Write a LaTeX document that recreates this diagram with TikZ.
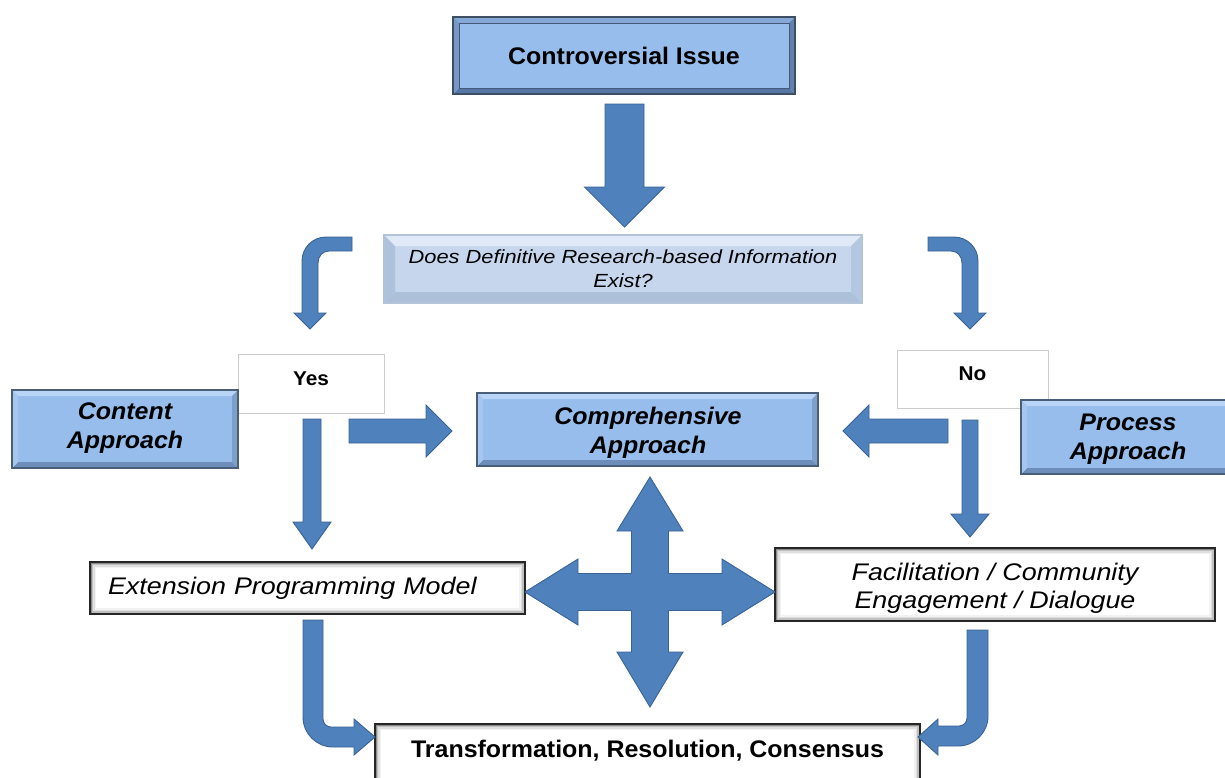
\documentclass[tikz,border=0pt]{standalone}
\usepackage{fontspec}
\setmainfont{Liberation Sans}
\newfontfamily\fA[FakeStretch=1.04]{Liberation Sans}
\newfontfamily\fB[FakeStretch=1.12]{Liberation Sans}
\newfontfamily\fC[FakeStretch=1.15]{Liberation Sans}
\usetikzlibrary{calc}
\pgfdeclarelayer{bg}
\pgfsetlayers{bg,main}
\definecolor{arrfill}{HTML}{4F81BD}
\definecolor{arrline}{HTML}{3A6394}
\definecolor{bluefill}{HTML}{97BDEC}
\definecolor{bevT}{HTML}{B8D4F6}
\definecolor{bevB}{HTML}{6D8EBB}
\definecolor{bevL}{HTML}{A6C6EF}
\definecolor{bevR}{HTML}{7F9FCB}
\definecolor{blueline}{HTML}{4B5E78}
\definecolor{ciT}{HTML}{86A8D6}
\definecolor{ciB}{HTML}{5676A3}
\definecolor{ciL}{HTML}{7698C7}
\definecolor{ciR}{HTML}{6282AE}
\definecolor{ciline}{HTML}{3E4E63}
\definecolor{ciinner}{HTML}{44597A}
\definecolor{dqfill}{HTML}{C6D7ED}
\definecolor{dqT}{HTML}{E0EAF7}
\definecolor{dqB}{HTML}{ADC0DA}
\definecolor{dqL}{HTML}{AFC2DC}
\definecolor{dqR}{HTML}{B4C7E0}
\definecolor{dqline}{HTML}{B3C3D8}

% bevelled box background: node, width, fill, top, bottom, left, right, border
\newcommand\bevelbox[8]{%
  \fill[#3] (#1.north west) rectangle (#1.south east);
  \fill[#4] (#1.north west) -- (#1.north east) -- ($(#1.north east)+(-#2,#2)$) -- ($(#1.north west)+(#2,#2)$) -- cycle;
  \fill[#5] (#1.south west) -- (#1.south east) -- ($(#1.south east)+(-#2,-#2)$) -- ($(#1.south west)+(#2,-#2)$) -- cycle;
  \fill[#6] (#1.north west) -- ($(#1.north west)+(#2,#2)$) -- ($(#1.south west)+(#2,-#2)$) -- (#1.south west) -- cycle;
  \fill[#7] (#1.north east) -- ($(#1.north east)+(-#2,#2)$) -- ($(#1.south east)+(-#2,-#2)$) -- (#1.south east) -- cycle;
  \draw[#8, line width=1.2pt] (#1.north west) rectangle (#1.south east);}

% white box with inner shadow
\newcommand\whitebox[1]{%
  \fill[black!45] (#1.north west) rectangle (#1.south east);
  \fill[black!25] ($(#1.north west)+(1.5,1.5)$) rectangle ($(#1.south east)+(-1.5,-1.5)$);
  \fill[black!12] ($(#1.north west)+(3,3)$) rectangle ($(#1.south east)+(-3,-3)$);
  \fill[black!5] ($(#1.north west)+(4.5,4.5)$) rectangle ($(#1.south east)+(-4.5,-4.5)$);
  \fill[white] ($(#1.north west)+(6,6)$) rectangle ($(#1.south east)+(-6,-6)$);
  \draw[black!85, line width=1.6pt] (#1.north west) rectangle (#1.south east);}

% vertical block arrow: start, tip, shaft half width, head half width, head length
\newcommand\vblock[5]{%
  \path[blockarrow] let \p1=(#1), \p2=(#2), \n1={(\y1>\y2)*2-1} in
    (\x2-#3pt,\y1) -- (\x2+#3pt,\y1) -- (\x2+#3pt,\y2+\n1*#5pt) -- (\x2+#4pt,\y2+\n1*#5pt)
    -- (\x2,\y2) -- (\x2-#4pt,\y2+\n1*#5pt) -- (\x2-#3pt,\y2+\n1*#5pt) -- cycle;}
% horizontal block arrow
\newcommand\hblock[5]{%
  \path[blockarrow] let \p1=(#1), \p2=(#2), \n1={(\x1>\x2)*2-1} in
    (\x1,\y2-#3pt) -- (\x1,\y2+#3pt) -- (\x2+\n1*#5pt,\y2+#3pt) -- (\x2+\n1*#5pt,\y2+#4pt)
    -- (\x2,\y2) -- (\x2+\n1*#5pt,\y2-#4pt) -- (\x2+\n1*#5pt,\y2-#3pt) -- cycle;}

\begin{document}
\begin{tikzpicture}[x=1pt,y=-1pt,
  box/.style={rectangle, inner sep=0pt, outer sep=0pt},
  boldtxt/.style={font=\fA\bfseries\fontsize{24}{28}\selectfont},
  bolditx/.style={font=\fA\bfseries\itshape\fontsize{24}{29}\selectfont, align=center},
  itx/.style={font=\fB\itshape\fontsize{24}{28}\selectfont},
  smallbold/.style={font=\fA\bfseries\fontsize{20}{24}\selectfont, text depth=10pt},
  blockarrow/.style={fill=arrfill, draw=arrline, line width=0.9pt, line join=miter}]
\useasboundingbox (0,0) rectangle (1225,777);

% ---------- nodes ----------
\node[box, boldtxt, minimum width=342, minimum height=77] (ci) at (624,55.5) {Controversial Issue};
\node[box, minimum width=478, minimum height=68, align=center,
      font=\fC\itshape\fontsize{19}{24}\selectfont] (dq) at (623,269)
      {Does Definitive Research-based Information\\Exist?};
\node[box, smallbold, minimum width=146, minimum height=59] (yes) at (311,383.5) {Yes};
\node[box, smallbold, minimum width=151, minimum height=58] (no) at (972.5,379) {No};
\node[box, minimum width=226, minimum height=78] (ca) at (125,429) {};
\node[bolditx] (cat) at (125,428.5) {Content\\Approach};
\node[box, minimum width=341, minimum height=73] (comp) at (647.5,429.5) {};
\node[bolditx] (compt) at (648,432.5) {Comprehensive\\Approach};
\node[box, minimum width=211, minimum height=74] (pa) at (1126.5,437) {};
\node[bolditx] (pat) at (1128,439) {Process\\Approach};
\node[box, itx, minimum width=435, minimum height=52, text width=399, align=left] (epm) at (307.5,588) {Extension Programming Model};
\node[box, minimum width=440, minimum height=73] (fac) at (995,584.5) {};
\node[itx, align=center] (fact) at (995,588) {Facilitation / Community\\Engagement / Dialogue};
\node[box, boldtxt, minimum width=545, minimum height=66, text depth=16pt] (trc) at (647.5,757) {Transformation, Resolution, Consensus};
\coordinate (cross) at (650,592);

% ---------- box backgrounds ----------
\begin{pgfonlayer}{bg}
  \bevelbox{ci}{6}{bluefill}{ciT}{ciB}{ciL}{ciR}{ciline}
  \draw[ciinner, line width=1pt] ($(ci.north west)+(6,6)$) rectangle ($(ci.south east)+(-6,-6)$);
  \bevelbox{dq}{11}{dqfill}{dqT}{dqB}{dqL}{dqR}{dqline}
  \draw[fill=white, draw=black!20, line width=0.8pt] (yes.north west) rectangle (yes.south east);
  \draw[fill=white, draw=black!20, line width=0.8pt] (no.north west) rectangle (no.south east);
  \bevelbox{ca}{6}{bluefill}{bevT}{bevB}{bevL}{bevR}{blueline}
  \bevelbox{comp}{6}{bluefill}{bevT}{bevB}{bevL}{bevR}{blueline}
  \bevelbox{pa}{6}{bluefill}{bevT}{bevB}{bevL}{bevR}{blueline}
  \whitebox{epm}
  \whitebox{fac}
  \whitebox{trc}
\end{pgfonlayer}

% ---------- straight block arrows ----------
\vblock{$(ci.south)+(0,10)$}{$(dq.north)+(1.5,-8)$}{19.5}{40}{40}
\hblock{$(yes.south east)+(-35,18)$}{$(comp.west)+(-25,1.5)$}{12}{26}{26}
\vblock{$(yes.south)+(1,6)$}{$(epm.north)+(4.5,-13)$}{9}{19}{27}
\hblock{$(no.south west)+(51,23)$}{$(comp.east)+(25,1.5)$}{12}{26}{26}
\vblock{$(no.south)+(0,12)$}{$(fac.north)+(-25,-11)$}{8}{19}{23}

% ---------- bent arrows from the question ----------
\path[blockarrow] (352,237) -- (326,237) .. controls (312.7,237) and (302,247.7) .. (302,261)
  -- (302,313) -- (294,313) -- (310,329) -- (326,313) -- (318,313) -- (318,263)
  .. controls (318,256.4) and (322.4,251) .. (329,251) -- (352,251) -- cycle;
\path[blockarrow] (928,237) -- (954,237) .. controls (967.3,237) and (978,247.7) .. (978,261)
  -- (978,313) -- (986,313) -- (970,329) -- (954,313) -- (962,313) -- (962,263)
  .. controls (962,256.4) and (957.6,251) .. (951,251) -- (928,251) -- cycle;

% ---------- bent arrows to the result ----------
\path[blockarrow] (303,620) -- (323,620) -- (323,719) .. controls (323,723.4) and (326.6,727) .. (331,727)
  -- (354,727) -- (354,719) -- (375,737) -- (354,755) -- (354,747) -- (333,747)
  .. controls (316.4,747) and (303,733.6) .. (303,717) -- cycle;
\path[blockarrow] (988,630) -- (967,630) -- (967,718) .. controls (967,722.4) and (963.4,726) .. (959,726)
  -- (938,726) -- (938,719) -- (918,737) -- (938,755) -- (938,746) -- (958,746)
  .. controls (974.6,746) and (988,732.6) .. (988,716) -- cycle;

% ---------- four-way arrow ----------
\path[blockarrow, shift={(cross)}] (0,-115) -- (33,-61) -- (18.5,-61) -- (18.5,-18.5) -- (72,-18.5)
  -- (72,-33) -- (125,0) -- (72,33) -- (72,18.5) -- (18.5,18.5) -- (18.5,60) -- (33,60)
  -- (0,115) -- (-33,60) -- (-18.5,60) -- (-18.5,18.5) -- (-72,18.5) -- (-72,33) -- (-125,0)
  -- (-72,-33) -- (-72,-18.5) -- (-18.5,-18.5) -- (-18.5,-61) -- (-33,-61) -- cycle;
\end{tikzpicture}
\end{document}
